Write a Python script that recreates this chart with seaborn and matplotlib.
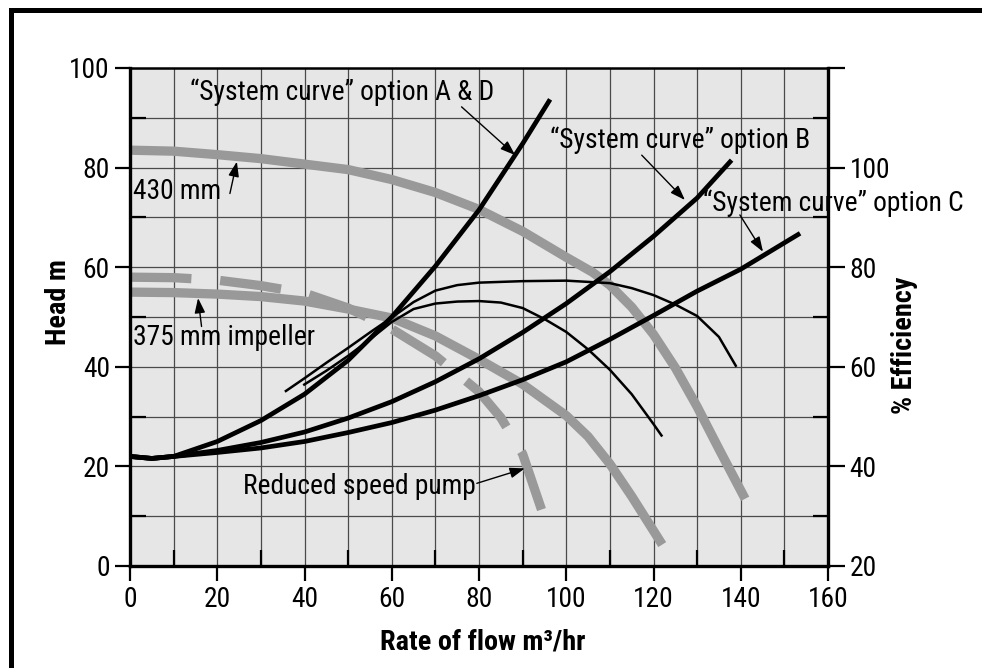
import matplotlib
matplotlib.use("Agg")
import matplotlib.pyplot as plt
import seaborn as sns
from matplotlib.ticker import MultipleLocator, FixedLocator
from matplotlib.patches import Rectangle

# ---- Pump head curves (flow m3/hr -> head m) ----
flow_430 = [0, 10, 20, 30, 40, 50, 60, 70, 80, 90, 100, 106, 110, 115, 120, 125, 130, 135, 141]
head_430 = [83.5, 83.3, 82.6, 81.8, 80.7, 79.6, 77.6, 75.0, 71.6, 67.2, 62.0, 59.0, 56.4, 52.0, 46.5, 39.8, 32.0, 23.5, 13.5]

flow_375 = [0, 10, 20, 30, 40, 50, 60, 70, 80, 90, 100, 105, 110, 115, 122]
head_375 = [55.0, 54.9, 54.6, 54.1, 53.2, 51.6, 49.8, 46.2, 41.5, 36.5, 30.2, 26.0, 20.5, 14.0, 4.3]

flow_reduced = [0, 10, 20, 30, 40, 50, 60, 70, 80, 85, 90, 96]
head_reduced = [58.0, 57.9, 57.4, 56.3, 54.8, 51.8, 47.6, 42.2, 35.0, 29.8, 22.5, 7.0]

# ---- System curves (flow m3/hr -> head m) ----
flow_sys_ad = [0, 5, 10, 20, 30, 40, 50, 60, 70, 80, 90, 96.3]
head_sys_ad = [22.0, 21.6, 22.0, 25.0, 29.2, 34.5, 41.3, 50.0, 60.2, 71.5, 84.8, 93.7]

flow_sys_b = [0, 5, 10, 20, 30, 40, 50, 60, 70, 80, 90, 100, 110, 120, 130, 137.9]
head_sys_b = [22.0, 21.6, 22.0, 23.2, 24.8, 26.9, 29.7, 33.0, 37.0, 41.6, 46.9, 52.7, 59.1, 66.2, 73.9, 81.5]

flow_sys_c = [0, 5, 10, 20, 30, 40, 50, 60, 70, 80, 90, 100, 110, 120, 130, 140, 150, 153.6]
head_sys_c = [22.0, 21.6, 22.0, 22.8, 23.7, 25.0, 26.8, 28.8, 31.3, 34.2, 37.4, 41.0, 45.5, 50.3, 55.2, 59.6, 64.9, 66.8]

# ---- Efficiency curves (flow m3/hr -> % efficiency) ----
flow_eff_430 = [35.5, 40, 45, 50, 55, 60, 65, 70, 75, 80, 90, 100, 110, 115, 120, 125, 130, 135, 139]
eff_430 = [55.0, 57.7, 60.8, 63.8, 66.9, 69.9, 73.0, 75.3, 76.4, 76.9, 77.2, 77.3, 76.8, 75.8, 74.4, 72.5, 70.2, 66.0, 60.0]

flow_eff_375 = [39.7, 45, 50, 55, 60, 65, 70, 75, 80, 85, 90, 95, 100, 105, 110, 115, 120, 122]
eff_375 = [56.3, 59.2, 62.2, 65.5, 69.0, 71.6, 72.7, 73.1, 73.2, 72.9, 71.8, 69.6, 67.0, 63.5, 59.4, 54.5, 48.5, 46.0]

# ---- Axis ticks ----
flow_ticks = [0, 20, 40, 60, 80, 100, 120, 140, 160]
head_ticks = [0, 20, 40, 60, 80, 100]
eff_ticks = [20, 40, 60, 80, 100, 120]
eff_tick_labels = ["20", "40", "60", "80", "100", ""]

sns.set_style("ticks")
plt.rcParams["font.family"] = ["Roboto Condensed", "DejaVu Sans"]
plt.rcParams["font.size"] = 19.8
for key in ["text.color", "axes.labelcolor", "xtick.color", "ytick.color", "axes.edgecolor"]:
    plt.rcParams[key] = "black"

FS = 19.8        # tick labels and notes
FS_LABEL = 20.3  # axis titles
GRAY = "#999999"
BG = "#e6e6e6"

fig = plt.figure(figsize=(9.82, 6.68), dpi=100)
ax = fig.add_axes([130 / 982, 102 / 668, 698 / 982, 498 / 668])
ax.set_facecolor(BG)

# outer frame (only its top and left edges fall inside the canvas)
fig.patches.append(Rectangle((10.5 / 982, -0.1), 1.2, 1.1 - 10.5 / 668,
                             transform=fig.transFigure, fill=False,
                             edgecolor="black", lw=3.6, clip_on=False))

def curve(x, y, axis, color, lw, **kw):
    sns.lineplot(x=x, y=y, ax=axis, color=color, lw=lw, sort=False,
                 estimator=None, legend=False, solid_capstyle="butt", **kw)

# pump curves (grey, heavy)
curve(flow_430, head_430, ax, GRAY, 6.7)
curve(flow_375, head_375, ax, GRAY, 6.7)
curve(flow_reduced, head_reduced, ax, GRAY, 6.7,
      linestyle=(0, (6.6, 3.1)), dash_capstyle="butt")

# system curves (black)
curve(flow_sys_ad, head_sys_ad, ax, "black", 3.4)
curve(flow_sys_b, head_sys_b, ax, "black", 3.4)
curve(flow_sys_c, head_sys_c, ax, "black", 3.4)

ax.set_xlim(0, 160)
ax.set_ylim(0, 100)
ax.xaxis.set_major_locator(FixedLocator(flow_ticks))
ax.xaxis.set_minor_locator(MultipleLocator(10))
ax.yaxis.set_major_locator(FixedLocator(head_ticks))
ax.yaxis.set_minor_locator(MultipleLocator(10))
ax.grid(True, which="both", color="#4a4a4a", lw=0.9)
ax.set_axisbelow(True)
ax.tick_params(which="major", direction="out", length=11, width=1.6,
               labelsize=FS, pad=3.5, top=False, right=False)
ax.tick_params(which="minor", direction="in", length=11.5, width=1.6,
               top=False, right=False)
for side in ["left", "bottom", "right"]:
    ax.spines[side].set_linewidth(2.4)
ax.spines["top"].set_linewidth(1.8)

ax.set_xlabel("Rate of flow m³/hr", fontsize=FS_LABEL, fontweight="bold")
ax.set_ylabel("Head m", fontsize=FS_LABEL, fontweight="bold")
ax.xaxis.set_label_coords(0.505, -0.126)
ax.yaxis.set_label_coords(-0.083, 0.53)

# efficiency axis
ax2 = ax.twinx()
curve(flow_eff_430, eff_430, ax2, "black", 1.8)
curve(flow_eff_375, eff_375, ax2, "black", 1.8)
ax2.set_ylim(20, 120)
ax2.yaxis.set_major_locator(FixedLocator(eff_ticks))
ax2.set_yticklabels(eff_tick_labels)
ax2.yaxis.set_minor_locator(MultipleLocator(10))
ax2.tick_params(which="major", direction="out", length=12, width=1.6,
                labelsize=FS, pad=3.5)
ax2.tick_params(which="minor", direction="in", length=11, width=1.6)
ax2.grid(False)
for s in ax2.spines.values():
    s.set_visible(False)
ax2.set_ylabel("% Efficiency", fontsize=FS_LABEL, fontweight="bold")
ax2.yaxis.set_label_coords(1.09, 0.444)

# annotations: label text, text anchor, arrow tail, arrow head (flow, head)
arrow = dict(arrowstyle="-|>,head_length=0.9,head_width=0.32", color="black",
             lw=1.0, shrinkA=0, shrinkB=0, mutation_scale=10)
notes = [
    ("\u201cSystem curve\u201d option A & D", (13.75, 95.2), (76.0, 92.2), (88.3, 82.5)),
    ("\u201cSystem curve\u201d option B", (96.3, 85.5), (117.3, 82.5), (127.2, 73.5)),
    ("\u201cSystem curve\u201d option C", (131.3, 72.9), (139.8, 70.5), (145.1, 63.1)),
    ("430 mm", (0.7, 75.2), (22.9, 74.8), (24.5, 81.2)),
    ("375 mm impeller", (0.7, 45.8), (16.4, 48.1), (15.6, 53.8)),
    ("Reduced speed pump", (25.9, 15.9), (79.5, 16.6), (90.5, 19.6)),
]
for label, pos, tail, head in notes:
    ax.text(pos[0], pos[1], label, fontsize=FS, ha="left", va="center",
            clip_on=False, zorder=6)
    ax.annotate("", xy=head, xytext=tail, arrowprops=arrow, zorder=6)

fig.savefig("out.png", dpi=100)
